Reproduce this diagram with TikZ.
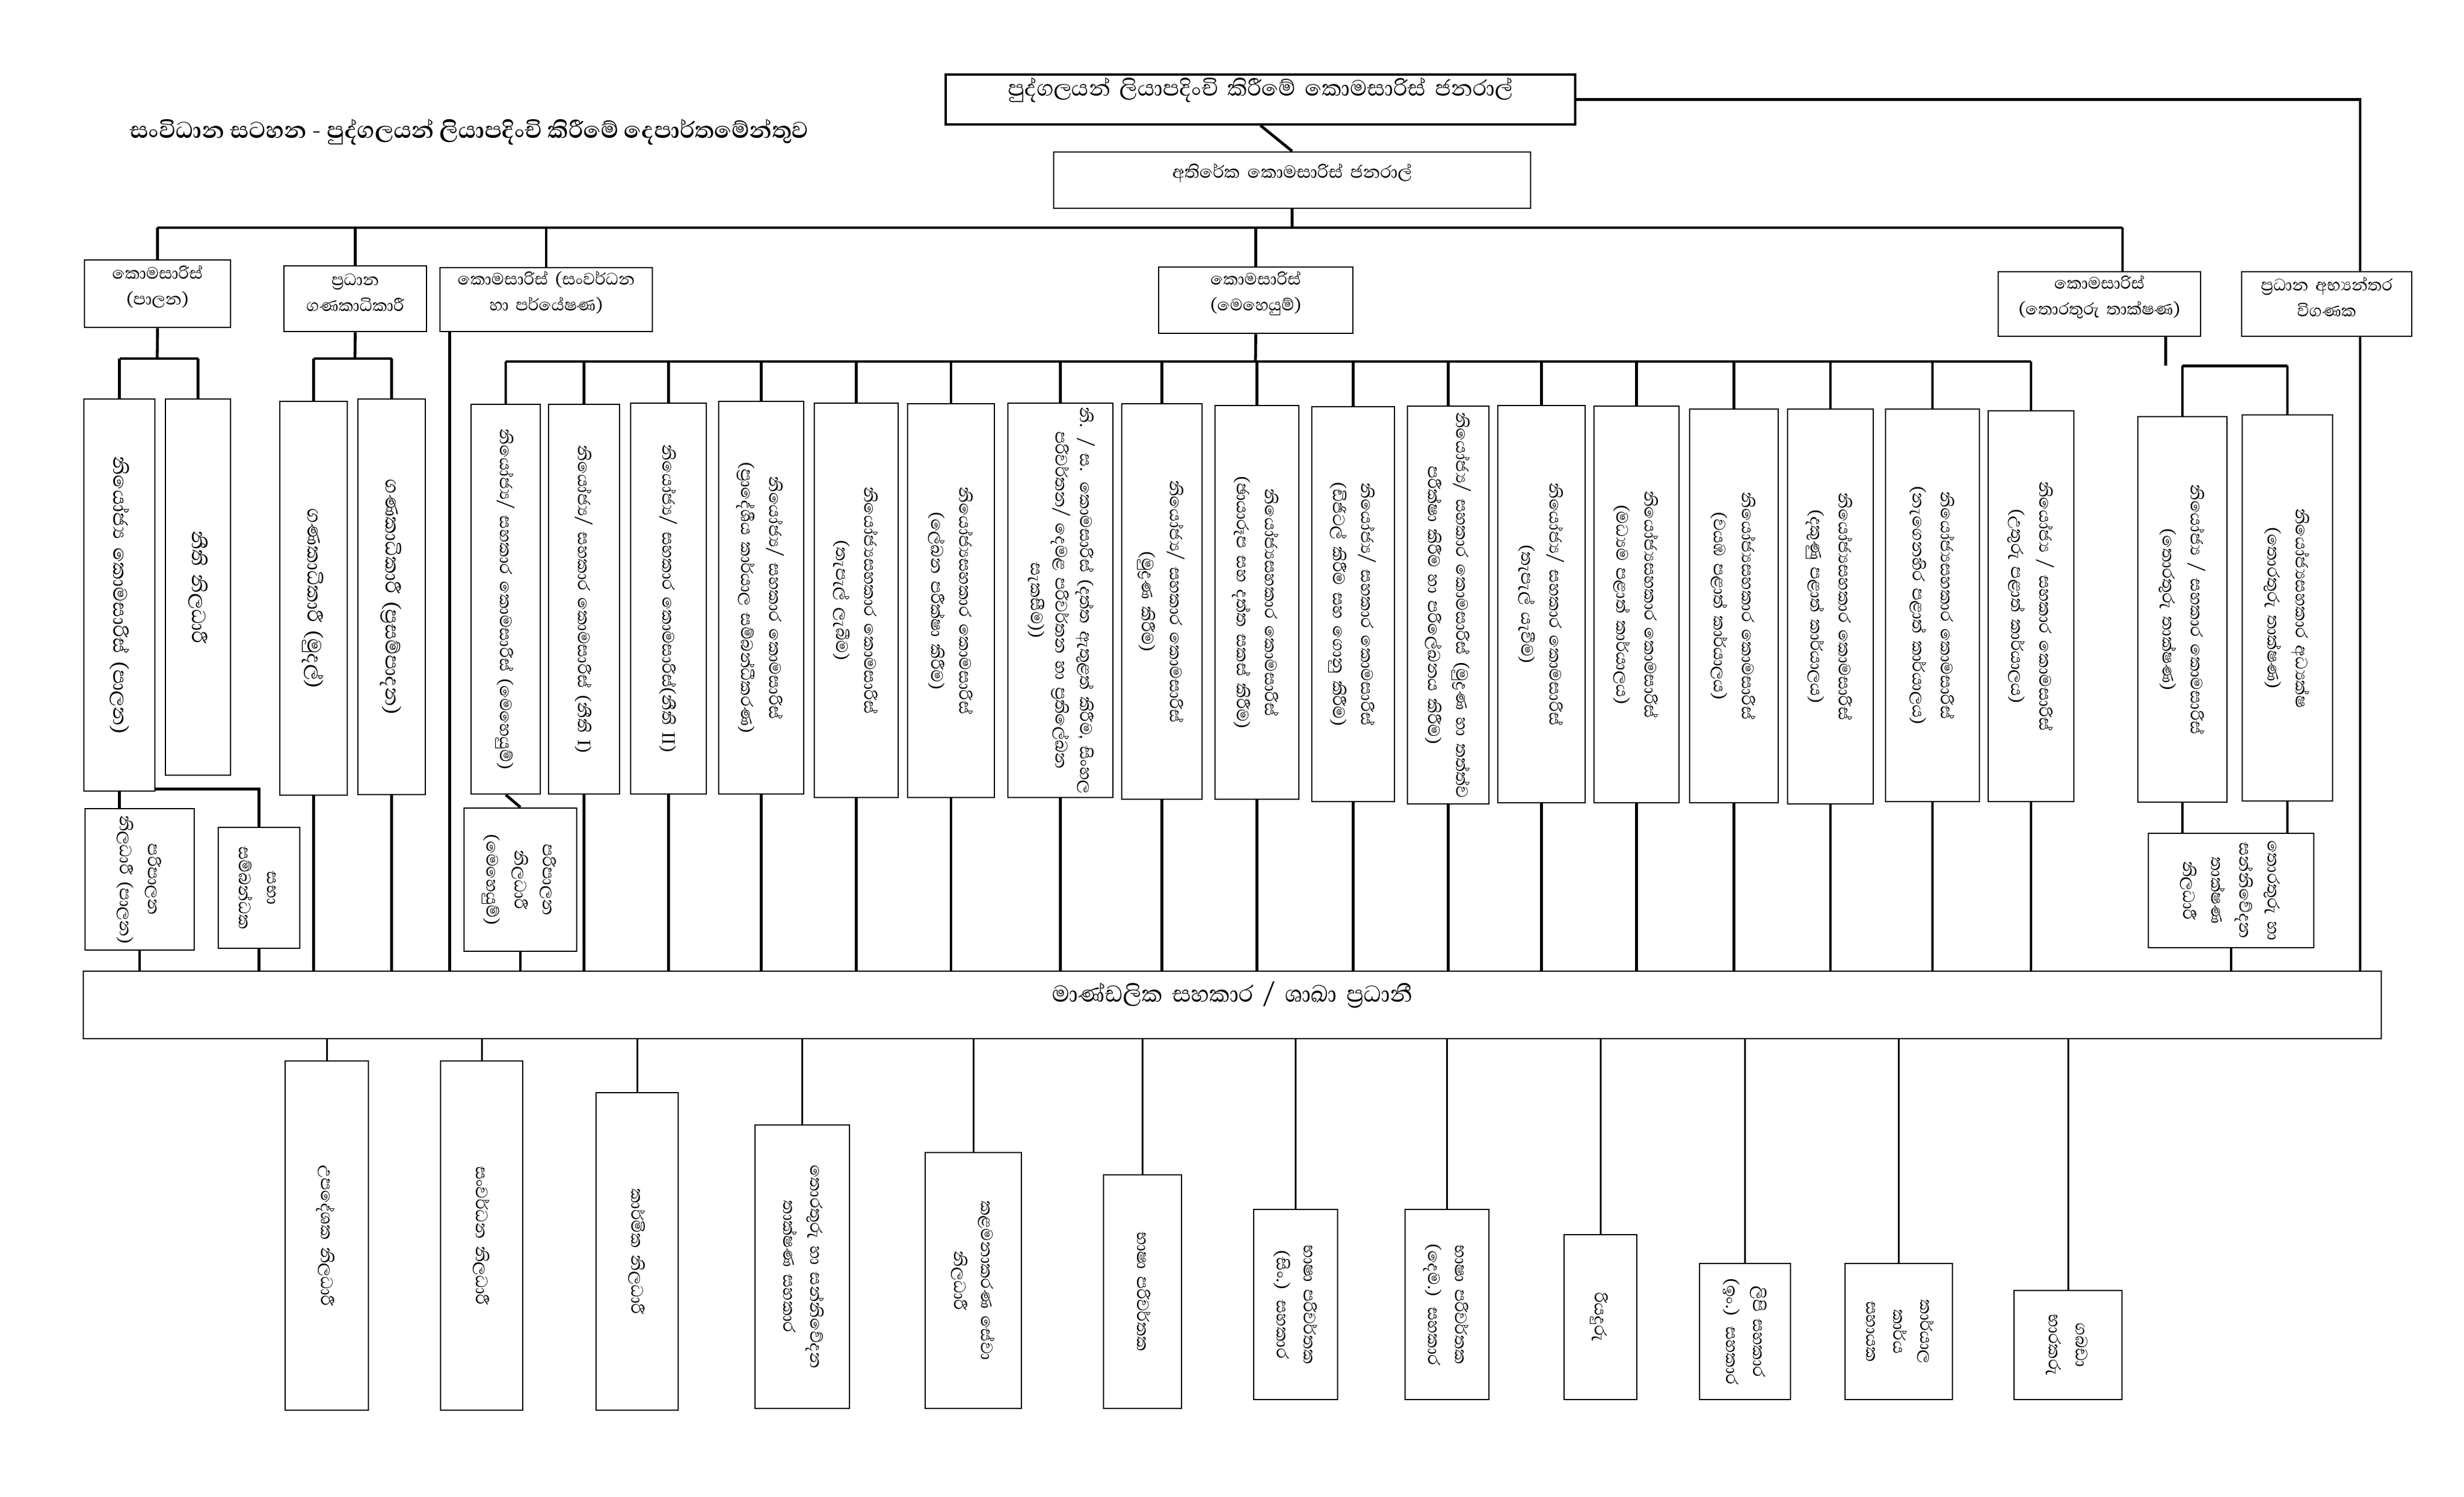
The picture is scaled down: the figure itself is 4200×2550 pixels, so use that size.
\documentclass[tikz,border=0pt]{standalone}
\usepackage{graphicx}
\usepackage{fontspec}
\setmainfont[Script=Sinhala]{Abhaya Libre}
\usetikzlibrary{fit,calc}
\newcommand\vt[1]{\rotatebox{-90}{\begin{tabular}{@{}c@{}}#1\end{tabular}}}
\tikzset{
  bx/.style={draw, line width=1.4pt, inner sep=0pt, fit={#1}, align=center},
  conn/.style={line width=2.4pt},
  lconn/.style={line width=1.5pt},
  vfont/.style={font=\fontsize{18}{24}\selectfont},
  vbig/.style={font=\fontsize{21}{26}\selectfont},
  lfont/.style={font=\fontsize{18}{22}\selectfont},
  bfont/.style={font=\fontsize{18}{23}\selectfont},
}
\begin{document}
\begin{tikzpicture}[x=0.5pt,y=-0.5pt]
\useasboundingbox (0,0) rectangle (4200,2550);
% title
\node[anchor=west,inner sep=0pt,font=\fontsize{25}{28}\selectfont\bfseries] (title) at (221,225) {සංවිධාන සටහන - පුද්ගලයන් ලියාපදිංචි කිරීමේ දෙපාර්තමේන්තුව};
% top
\node[bx={(1612,127)(2685,212)},line width=1.8pt,font=\fontsize{24}{28}\selectfont] (gen) {පුද්ගලයන් ලියාපදිංචි කිරීමේ කොමසාරිස් ජනරාල්};
\node[bx={(1796,259)(2609,355)},font=\fontsize{19}{24}\selectfont] (add) {අතිරේක කොමසාරිස් ජනරාල්};
% level 3
\node[bx={(144,443)(393,558)},lfont] (adm) {කොමසාරිස්\\(පාලන)};
\node[bx={(484,453)(727,565)},lfont] (ca) {ප්‍රධාන\\ගණකාධිකාරී};
\node[bx={(750,456)(1112,565)},lfont] (dev) {කොමසාරිස් (සංවර්ධන\\හා පර්යේෂණ)};
\node[bx={(1975,455)(2306,568)},lfont] (ops) {කොමසාරිස්\\(මෙහෙයුම්)};
\node[bx={(3406,463)(3751,573)},lfont] (it) {කොමසාරිස්\\(තොරතුරු තාක්ෂණ)};
\node[bx={(3821,463)(4111,573)},lfont] (aud) {ප්‍රධාන අභ්‍යන්තර\\විගණක};
% admin branch
\node[bx={(143,680)(264,1348)},vbig] (A1) {\vt{නියෝජ්‍ය කොමසාරිස් (පාලන)}};
\node[bx={(282,680)(393,1321)},vbig] (A2) {\vt{නීති නිලධාරී}};
\node[bx={(145,1378)(331,1619)},vfont] (A3) {\vt{පරිපාලන\\නිලධාරී (පාලන)}};
\node[bx={(372,1410)(511,1616)},vfont] (A4) {\vt{සභා\\සම්බන්ධක}};
% chief accountant branch
\node[bx={(477,684)(592,1355)},vbig] (B1) {\vt{ගණකාධිකාරී (මුදල්)}};
\node[bx={(610,680)(725,1354)},vbig] (B2) {\vt{ගණකාධිකාරී (ප්‍රසම්පාදන)}};
% operations branch
\node[bx={(803,689)(921,1353)},vfont] (C1) {\vt{නියෝජ්‍ය/ සහකාර කොමසාරිස් (මෙහෙයුම්)}};
\node[bx={(791,1377)(983,1621)},vfont] (Cs) {\vt{පරිපාලන\\නිලධාරී\\(මෙහෙයුම්)}};
\node[bx={(935,689)(1056,1353)},vfont] (C2) {\vt{නියෝජ්‍ය/ සහකාර කොමසාරිස් (නීති I)}};
\node[bx={(1075,687)(1204,1353)},vfont] (C3) {\vt{නියෝජ්‍ය/ සහකාර කොමසාරිස්(නීති II)}};
\node[bx={(1225,684)(1370,1353)},vfont] (C4) {\vt{නියෝජ්‍ය/ සහකාර කොමසාරිස්\\(ප්‍රාදේශීය කාර්යාල සම්බන්ධීකරණ)}};
\node[bx={(1388,687)(1531,1359)},vfont] (C5) {\vt{නියෝජ්‍යසහකාර කොමසාරිස්\\(තැපැල් ලැබීම)}};
\node[bx={(1547,688)(1695,1359)},vfont] (C6) {\vt{නියෝජ්‍යසහකාර කොමසාරිස්\\(ලේඛන පරීක්ෂා කිරීම)}};
\node[bx={(1718,687)(1897,1359)},font=\fontsize{18}{21}\selectfont] (D1) {\vt{නි. / ස. කොමසාරිස් (දත්ත ඇතුළත් කිරීම, සිංහල\\පරිවර්තන/ දෙමළ පරිවර්තන හා ප්‍රතිලේඛන\\සැකසීම))}};
\node[bx={(1912,688)(2049,1362)},vfont] (D2) {\vt{නියෝජ්‍ය/ සහකාර කොමසාරිස්\\(මුද්‍රණ කිරීම)}};
\node[bx={(2071,691)(2214,1362)},vfont] (D3) {\vt{නියෝජ්‍යසහකාර කොමසාරිස්\\(ඡායාරූප සහ දත්ත සකස් කිරීම)}};
\node[bx={(2236,693)(2377,1366)},vfont] (D4) {\vt{නියෝජ්‍ය/ සහකාර කොමසාරිස්\\(ඩිජිටල් කිරීම සහ ගොනු කිරීම)}};
\node[bx={(2399,692)(2538,1370)},vfont] (D5) {\vt{නියෝජ්‍ය/ සහකාර කොමසාරිස් (මුද්‍රණ හා තත්ත්ව\\පරීක්ෂා කිරීම හා පරිලේඛනය කිරීම)}};
\node[bx={(2553,691)(2702,1368)},vfont] (D6) {\vt{නියෝජ්‍ය/ සහකාර කොමසාරිස්\\(තැපැල් යැවීම)}};
\node[bx={(2717,692)(2862,1368)},vfont] (E1) {\vt{නියෝජ්‍යසහකාර කොමසාරිස්\\(මධ්‍යම පළාත් කාර්යාලය)}};
\node[bx={(2880,697)(3031,1368)},vfont] (E2) {\vt{නියෝජ්‍යසහකාර කොමසාරිස්\\(වයඹ පළාත් කාර්යාලය)}};
\node[bx={(3047,697)(3193,1370)},vfont] (E3) {\vt{නියෝජ්‍යසහකාර කොමසාරිස්\\(දකුණු පළාත් කාර්යාලය)}};
\node[bx={(3214,697)(3374,1366)},vfont] (E4) {\vt{නියෝජ්‍යසහකාර කොමසාරිස්\\(නැගෙනහිර පළාත් කාර්යාලය)}};
\node[bx={(3389,700)(3535,1366)},vfont] (E5) {\vt{නියෝජ්‍ය / සහකාර කොමසාරිස්\\(උතුරු පළාත් කාර්යාලය)}};
% IT branch
\node[bx={(3644,710)(3796,1367)},vfont] (F1) {\vt{නියෝජ්‍ය / සහකාර කොමසාරිස්\\(තොරතුරු තාක්ෂණ)}};
\node[bx={(3822,707)(3976,1365)},vfont] (F2) {\vt{නියෝජ්‍යසහකාර අධ්‍යක්ෂ\\(තොරතුරු තාක්ෂණ)}};
\node[bx={(3662,1420)(3944,1615)},vfont] (Fs) {\vt{තොරතුරු හා\\සන්නිවේදන\\තාක්ෂණ\\නිලධාරී}};
% bus
\node[bx={(142,1655)(4059,1770)},font=\fontsize{25}{28}\selectfont] (bus) {මාණ්ඩලික සහකාර / ශාඛා ප්‍රධානී};
% bottom row
\node[bx={(486,1808)(628,2403)},bfont] (G1) {\vt{උපදේශක නිලධාරී}};
\node[bx={(751,1808)(891,2403)},bfont] (G2) {\vt{සංවර්ධන නිලධාරී}};
\node[bx={(1016,1862)(1156,2403)},bfont] (G3) {\vt{කාර්මික නිලධාරී}};
\node[bx={(1287,1917)(1448,2400)},bfont] (G4) {\vt{තොරතුරු හා සන්නිවේදන\\තාක්ෂණ සහකාර}};
\node[bx={(1577,1964)(1741,2400)},bfont] (G5) {\vt{කළමනාකරණ සේවා\\නිලධාරී}};
\node[bx={(1881,2002)(2014,2400)},bfont] (G6) {\vt{භාෂා පරිවර්තක}};
\node[bx={(2137,2061)(2280,2385)},bfont] (H1) {\vt{භාෂා පරිවර්තක\\(සිං.) සහකාර}};
\node[bx={(2395,2061)(2538,2385)},bfont] (H2) {\vt{භාෂා පරිවර්තක\\(දෙම.) සහකාර}};
\node[bx={(2666,2104)(2790,2385)},bfont] (H3) {\vt{රියදුරු}};
\node[bx={(2897,2153)(3052,2385)},bfont] (H4) {\vt{ලිපි සහකාර\\(ඉං.) සහකාර}};
\node[bx={(3145,2153)(3328,2385)},bfont] (H5) {\vt{කාර්යාල\\කාර්ය\\සහායක}};
\node[bx={(3433,2199)(3617,2385)},bfont] (H6) {\vt{ගබඩා\\භාරකරු}};
% ---------- connectors
\coordinate (mbL) at (268,388);
\coordinate (mbR) at (3618,388);
\draw[conn] (gen.south) -- (add.north);
\draw[conn] (mbL) -- (mbR);
\draw[conn] (add.south) -- (add.south |- mbL);
\foreach \n in {adm,ca,dev,ops} \draw[conn] (\n.north) -- (\n.north |- mbL);
\draw[conn] (mbR) -- (mbR |- it.north);
\coordinate (gx) at ($(aud.north)+(57,0)$);
\draw[conn] (gen.east) -| (gx);
\draw[conn] (gx |- aud.south) -- (gx |- bus.north);
% admin sub-bus
\coordinate (admB) at (268,611);
\draw[conn] (adm.south) -- (admB);
\draw[conn] (A1.north |- admB) -- (A2.north |- admB);
\foreach \n in {A1,A2} \draw[conn] (\n.north |- admB) -- (\n.north);
\draw[conn] (A1.south) -- (A1.south |- A3.north);
\draw[conn] (A3.south) -- (A3.south |- bus.north);
\draw[conn] ($(A1.south east)+(0,-5)$) -| (A4.north);
\draw[conn] (A4.south) -- (A4.south |- bus.north);
% chief accountant
\coordinate (caB) at (605,611);
\draw[conn] (ca.south) -- (caB);
\draw[conn] (B1.north |- caB) -- (B2.north |- caB);
\foreach \n in {B1,B2} {\draw[conn] (\n.north |- caB) -- (\n.north); \draw[conn] (\n.south) -- (\n.south |- bus.north);}
% development
\coordinate (dvx) at ($(dev.south west)+(18,0)$);
\draw[conn] (dvx) -- (dvx |- bus.north);
% operations
\coordinate (opsB) at (2140,616);
\draw[conn] (ops.south) -- (opsB);
\draw[conn] (C1.north |- opsB) -- (E5.north |- opsB);
\foreach \n in {C1,C2,C3,C4,C5,C6,D1,D2,D3,D4,D5,D6,E1,E2,E3,E4,E5} \draw[conn] (\n.north |- opsB) -- (\n.north);
\draw[conn] (C1.south) -- (Cs.north);
\draw[conn] (Cs.south) -- (Cs.south |- bus.north);
\foreach \n in {C2,C3,C4,C5,C6,D1,D2,D3,D4,D5,D6,E1,E2,E3,E4,E5} \draw[conn] (\n.south) -- (\n.south |- bus.north);
% IT
\coordinate (itx) at ($(it.south)+(113,0)$);
\coordinate (itB) at ($(it.south)+(113,49)$);
\draw[conn] (itx) -- (itB);
\draw[conn] (F1.north |- itB) -- (F2.north |- itB);
\foreach \n in {F1,F2} {\draw[conn] (\n.north |- itB) -- (\n.north); \draw[conn] (\n.south) -- (\n.south |- Fs.north);}
\draw[conn] (Fs.south) -- (Fs.south |- bus.north);
% bottom
\foreach \n in {G1,G2,G3,G4,G5,G6,H1,H2,H3,H4,H5,H6} \draw[lconn] (\n.north |- bus.south) -- (\n.north);
\end{tikzpicture}
\end{document}
